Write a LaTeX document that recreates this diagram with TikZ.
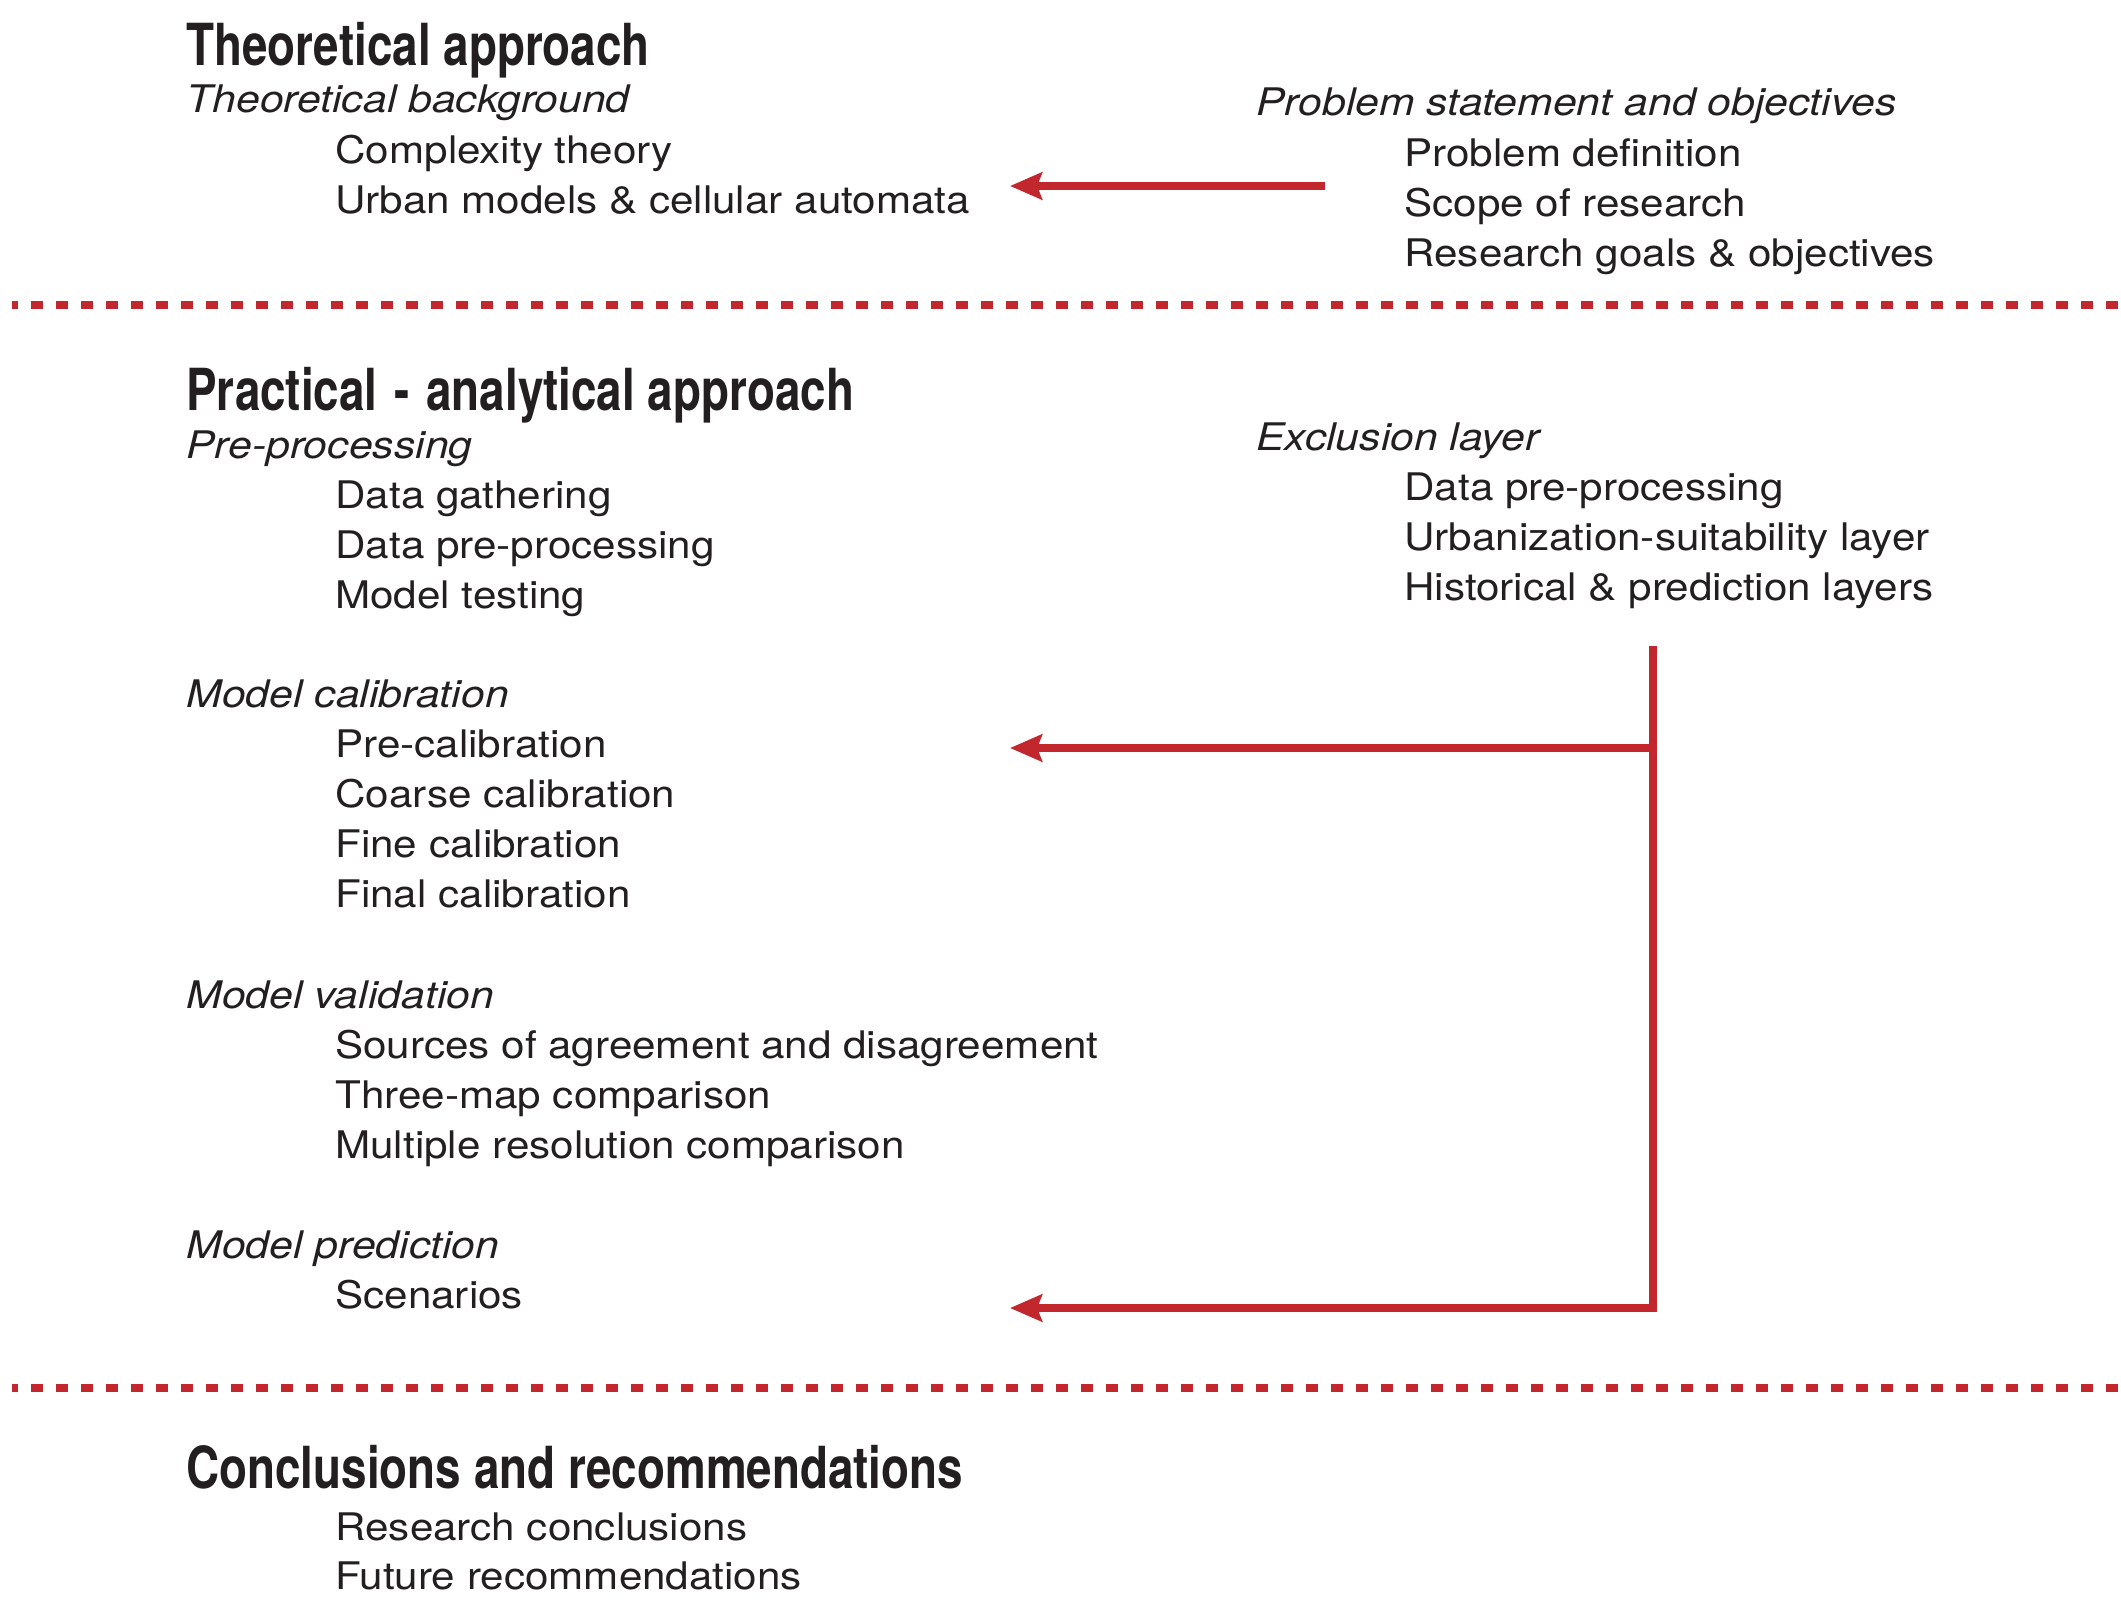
\documentclass[tikz,border=0pt]{standalone}
\usepackage{fontspec}
\setmainfont{TeX Gyre Heros}[FakeStretch=1.11]
\newfontfamily\headfont{TeX Gyre Heros}[FakeStretch=0.79]
\newfontfamily\subfont{TeX Gyre Heros}[FakeStretch=1.125]
\usetikzlibrary{arrows.meta}
\definecolor{redline}{HTML}{C1272D}
\definecolor{ink}{HTML}{231F20}
\begin{document}
\begin{tikzpicture}[x=0.5pt,y=-0.5pt,
  heading/.style={anchor=base west, inner sep=0pt, text=ink,
    font=\headfont\bfseries\fontsize{29}{34}\selectfont},
  subhead/.style={anchor=base west, inner sep=0pt, text=ink,
    font=\subfont\itshape\fontsize{19}{23}\selectfont},
  item/.style={anchor=base west, inner sep=0pt, text=ink,
    font=\fontsize{19}{23}\selectfont},
  sepline/.style={draw=redline, line width=4pt, dash pattern=on 6pt off 6.5pt, dash phase=3pt},
  flow/.style={draw=redline, line width=4.2pt, line join=miter,
    -{Stealth[length=16pt,width=13.5pt,inset=2.5pt]}},
  ]
\useasboundingbox (0,0) rectangle (2121,1606);

% ---- Theoretical approach
\node[heading] (h1) at (186,65) {Theoretical approach};
\node[subhead] (tb) at (186,112) {Theoretical background};
\node[item] (ct) at (335,163) {Complexity theory};
\node[item] (um) at (335,213) {Urban models \& cellular automata};

\node[subhead] (ps) at (1256,115) {Problem statement and objectives};
\node[item] (pd) at (1404,166) {Problem definition};
\node[item] (sr) at (1404,216) {Scope of research};
\node[item] (rg) at (1404,266) {Research goals \& objectives};

\coordinate (aTail) at (1325,186);
\coordinate (aTip) at (1010,186);
\draw[flow] (aTail) -- (aTip);

\coordinate (s1a) at (12,305);
\coordinate (s1b) at (2121,305);
\draw[sepline] (s1a) -- (s1b);

% ---- Practical - analytical approach
\node[heading] (h2) at (186,410) {Practical \kern2pt-\kern2pt{} analytical approach};
\node[subhead] (pp) at (186,458) {Pre-processing};
\node[item] (dg) at (335,508) {Data gathering};
\node[item] (dp) at (335,558) {Data pre-processing};
\node[item] (mt) at (335,608) {Model testing};

\node[subhead] (mc) at (186,707) {Model calibration};
\node[item] (pc) at (335,757) {Pre-calibration};
\node[item] (cc) at (335,807) {Coarse calibration};
\node[item] (fc) at (335,857) {Fine calibration};
\node[item] (fic) at (335,907) {Final calibration};

\node[subhead] (mv) at (186,1008) {Model validation};
\node[item] (sa) at (335,1058) {Sources of agreement and disagreement};
\node[item] (tm) at (335,1108) {Three-map comparison};
\node[item] (mr) at (335,1158) {Multiple resolution comparison};

\node[subhead] (mp) at (186,1258) {Model prediction};
\node[item] (sc) at (335,1308) {Scenarios};

\node[subhead] (el) at (1256,450) {Exclusion layer};
\node[item] (edp) at (1404,500) {Data pre-processing};
\node[item] (us) at (1404,550) {Urbanization-suitability layer};
\node[item] (hp) at (1404,600) {Historical \& prediction layers};

\coordinate (vTop) at (1653,646);
\coordinate (vMid) at (1653,748);
\coordinate (vBot) at (1653,1308);
\coordinate (tipMid) at (1010,748);
\coordinate (tipBot) at (1010,1308);
\draw[flow] (vTop) -- (vBot) -- (tipBot);
\draw[flow] (vMid) -- (tipMid);

\coordinate (s2a) at (12,1388);
\coordinate (s2b) at (2121,1388);
\draw[sepline] (s2a) -- (s2b);

% ---- Conclusions
\node[heading] (h3) at (186,1488) {Conclusions and recommendations};
\node[item] (rc) at (335,1540) {Research conclusions};
\node[item] (fr) at (335,1589) {Future recommendations};
\end{tikzpicture}
\end{document}
